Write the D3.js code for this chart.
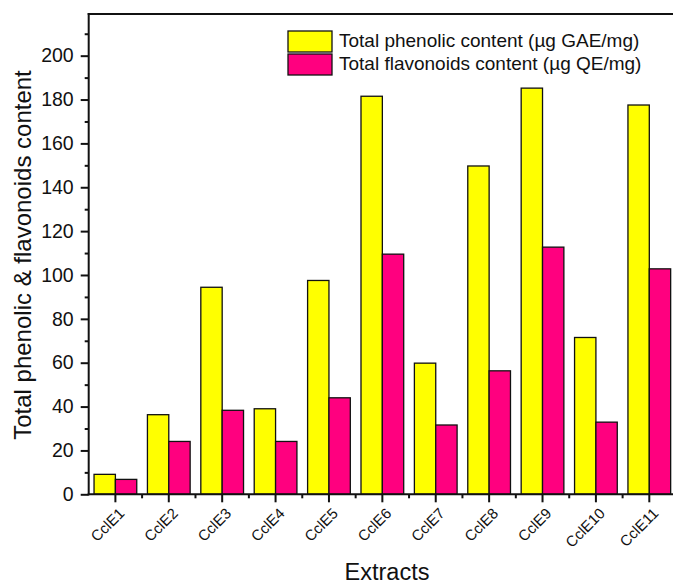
<!DOCTYPE html>
<html>
<head>
<meta charset="utf-8">
<script src="https://cdn.jsdelivr.net/npm/d3@7"></script>
<style>
  html, body { margin: 0; padding: 0; background: #fff; }
  svg { display: block; font-family: "Liberation Sans", Arial, sans-serif; }
</style>
</head>
<body>
<svg id="chart" width="673" height="585"></svg>
<script>
// Extracts and their measured contents
const categories = ["CclE1", "CclE2", "CclE3", "CclE4", "CclE5", "CclE6", "CclE7", "CclE8", "CclE9", "CclE10", "CclE11"];
const phenolic = [9.1, 36.3, 94.4, 39.0, 97.5, 181.5, 59.8, 149.7, 185.2, 71.5, 177.5];
const flavonoids = [6.8, 24.1, 38.3, 24.1, 44.0, 109.5, 31.6, 56.3, 112.7, 32.9, 102.8];
const seriesNames = ["Total phenolic content (µg GAE/mg)", "Total flavonoids content (µg QE/mg)"];
const seriesColors = ["#FFFF00", "#FF007F"];
const yMajorTicks = [0, 20, 40, 60, 80, 100, 120, 140, 160, 180, 200];
const yMinorTicks = [10, 30, 50, 70, 90, 110, 130, 150, 170, 190, 210];

const svg = d3.select("#chart");
const plotLeft = 88.7, plotRight = 676, plotTop = 14, plotBottom = 494.3;

const x = d3.scaleBand().domain(categories).range([plotLeft, plotRight]).padding(0);
const xs = d3.scaleBand().domain([0, 1]).range([0.1 * x.bandwidth(), 0.9 * x.bandwidth()]).padding(0);
const y = d3.scaleLinear().domain([0, 219]).range([plotBottom, plotTop]);

const rows = categories.map((c, i) => ({ c, vals: [phenolic[i], flavonoids[i]] }));

// bars
const g = svg.append("g");
rows.forEach(r => {
  r.vals.forEach((v, k) => {
    g.append("rect")
      .attr("x", x(r.c) + xs(k))
      .attr("y", y(v))
      .attr("width", xs.bandwidth())
      .attr("height", y(0) - y(v))
      .attr("fill", seriesColors[k])
      .attr("stroke", "#111")
      .attr("stroke-width", 1.3);
  });
});

// y axis
const yAxis = d3.axisLeft(y).tickValues(yMajorTicks).tickSize(8).tickPadding(7).tickFormat(d3.format("d"));
const ya = svg.append("g").attr("transform", `translate(${plotLeft},0)`).call(yAxis);
ya.select(".domain").remove();
ya.selectAll(".tick line").attr("stroke", "#111").attr("stroke-width", 2);
ya.selectAll(".tick text").attr("font-size", 19.5).attr("fill", "#111").attr("font-family", "Liberation Sans, Arial, sans-serif");
const yMinor = d3.axisLeft(y).tickValues(yMinorTicks).tickSize(4).tickFormat("");
const ym = svg.append("g").attr("transform", `translate(${plotLeft},0)`).call(yMinor);
ym.select(".domain").remove();
ym.selectAll(".tick line").attr("stroke", "#111").attr("stroke-width", 2);

// x axis
const xAxis = d3.axisBottom(x).tickSize(8).tickFormat("");
const xa = svg.append("g").attr("transform", `translate(0,${plotBottom})`).call(xAxis);
xa.select(".domain").remove();
xa.selectAll(".tick line").attr("stroke", "#111").attr("stroke-width", 2);
const bounds = categories.map(c => x(c)).concat([plotRight]).slice(1);
svg.append("g").selectAll("line").data(bounds).join("line")
  .attr("x1", d => d).attr("x2", d => d)
  .attr("y1", plotBottom).attr("y2", plotBottom + 4)
  .attr("stroke", "#111").attr("stroke-width", 2);

// rotated category labels
svg.append("g").selectAll("text").data(categories).join("text")
  .attr("transform", d => `translate(${x(d) + x.bandwidth() / 2 + 10},${plotBottom + 20}) rotate(-45)`)
  .attr("text-anchor", "end")
  .attr("font-size", 15)
  .attr("fill", "#111")
  .text(d => d);

// frame
svg.append("line").attr("x1", plotLeft).attr("x2", plotLeft).attr("y1", plotTop - 1).attr("y2", plotBottom + 1)
  .attr("stroke", "#111").attr("stroke-width", 2);
svg.append("line").attr("x1", plotLeft - 1).attr("x2", plotRight).attr("y1", plotBottom).attr("y2", plotBottom)
  .attr("stroke", "#111").attr("stroke-width", 2);
svg.append("line").attr("x1", plotLeft - 1).attr("x2", plotRight).attr("y1", plotTop).attr("y2", plotTop)
  .attr("stroke", "#111").attr("stroke-width", 2);
svg.append("line").attr("x1", plotRight).attr("x2", plotRight).attr("y1", plotTop).attr("y2", plotBottom)
  .attr("stroke", "#111").attr("stroke-width", 2);

// axis titles
svg.append("text")
  .attr("transform", `translate(31,255) rotate(-90)`)
  .attr("text-anchor", "middle")
  .attr("font-size", 24)
  .attr("fill", "#111")
  .text("Total phenolic & flavonoids content");
svg.append("text")
  .attr("x", 387).attr("y", 580)
  .attr("text-anchor", "middle")
  .attr("font-size", 23.5)
  .attr("fill", "#111")
  .text("Extracts");

// legend
const legend = svg.append("g");
seriesNames.forEach((name, k) => {
  const ly = 31 + k * 23;
  legend.append("rect")
    .attr("x", 288).attr("y", ly).attr("width", 44).attr("height", 21)
    .attr("fill", seriesColors[k]).attr("stroke", "#111").attr("stroke-width", 1.3);
  legend.append("text")
    .attr("x", 339).attr("y", ly + 16)
    .attr("font-size", 19)
    .attr("fill", "#111")
    .text(name);
});
</script>
</body>
</html>
